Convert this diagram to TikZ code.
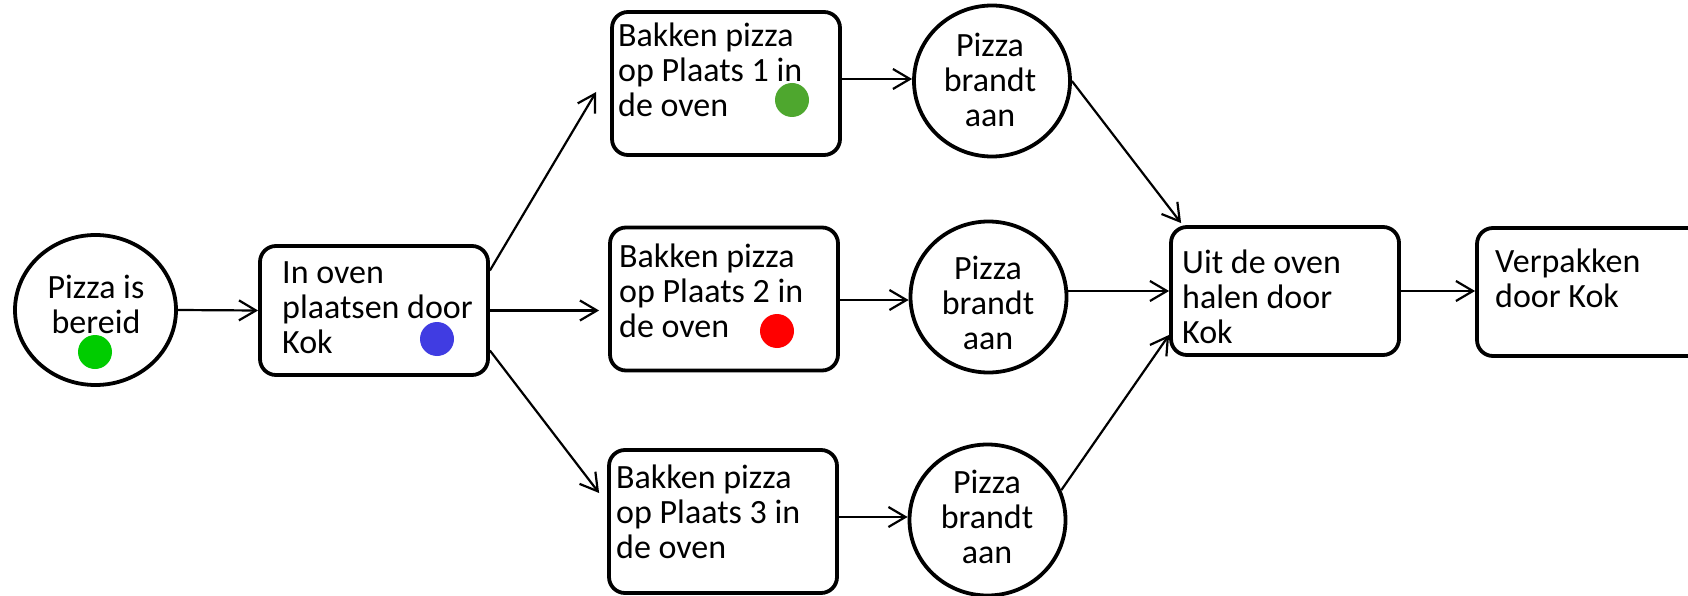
\documentclass[tikz,border=0pt]{standalone}
\usepackage{fontspec}
\setmainfont{Carlito}
\usetikzlibrary{arrows.meta,shapes.geometric}
\definecolor{dotgreenA}{RGB}{0,204,0}
\definecolor{dotgreenB}{RGB}{78,167,46}
\definecolor{dotblue}{RGB}{64,60,226}
\definecolor{dotred}{RGB}{255,0,0}
\tikzset{
  stepbox/.style={draw, line width=3.8pt, rounded corners=16pt, minimum width=228pt, minimum height=143pt, inner sep=0pt},
  event/.style={draw, ellipse, line width=3.8pt, minimum width=156pt, minimum height=151pt, inner sep=0pt},
  lbl/.style={anchor=base west, align=left, inner sep=0pt, font=\fontsize{34}{35}\selectfont},
  clbl/.style={anchor=base, align=center, inner sep=0pt, font=\fontsize{34}{35}\selectfont},
  dot/.style={circle, minimum size=34pt, inner sep=0pt, draw=none},
  conn/.style={line width=2.2pt, -{Straight Barb[length=17pt,width=20pt]}}
}
\begin{document}
\begin{tikzpicture}[x=1pt,y=-1pt]
\clip (0,0) rectangle (1688,596);
\fill[white] (0,0) rectangle (1688,596);
% shapes
\node[event, minimum width=161pt, minimum height=150pt] (bereid) at (95.5,310) {};
\node[stepbox, minimum height=129pt] (inoven) at (374,310.5) {};
\node[stepbox] (box1) at (726,83.5) {};
\node[stepbox] (box2) at (724,299) {};
\node[stepbox] (box3) at (723,521.5) {};
\node[event] (circ1) at (992,81) {};
\node[event] (circ2) at (988.5,297) {};
\node[event] (circ3) at (987.5,520) {};
\node[stepbox, minimum height=128pt] (uit) at (1285,291) {};
\node[stepbox, minimum height=128pt] (verp) at (1591,292) {};
% texts (anchored at the baseline of the last line)
\node[clbl] (tbereid) at (96,333) {Pizza is\\bereid};
\node[lbl] (tinoven) at (282,353) {In oven\\plaatsen door\\Kok};
\node[lbl] (tbox1) at (618,117) {Bakken pizza\\op Plaats 1 in\\de oven};
\node[lbl] (tbox2) at (619,337) {Bakken pizza\\op Plaats 2 in\\de oven};
\node[lbl] (tbox3) at (616,558) {Bakken pizza\\op Plaats 3 in\\de oven};
\node[clbl] (tcirc1) at (990,127) {Pizza\\brandt\\aan};
\node[clbl] (tcirc2) at (988,349) {Pizza\\brandt\\aan};
\node[clbl] (tcirc3) at (987,563) {Pizza\\brandt\\aan};
\node[lbl] (tuit) at (1182,343) {Uit de oven\\halen door\\Kok};
\node[lbl] (tverp) at (1495,307) {Verpakken\\door Kok};
% dots
\node[dot, fill=dotgreenA] (dot1) at (95,352) {};
\node[dot, fill=dotblue] (dot2) at (437,339) {};
\node[dot, fill=dotgreenB] (dot3) at (792,100) {};
\node[dot, fill=dotred] (dot4) at (777,331) {};
% connectors
\draw[conn] (bereid.east) -- (inoven.west);
\draw[conn] ([yshift=40pt]inoven.east) -- ([xshift=-14pt,yshift=-8.5pt]box1.west);
\draw[conn] (inoven.east) -- ([xshift=-9pt]inoven.east -| box2.west);
\draw[conn] ([yshift=-40pt]inoven.east) -- ([xshift=-8pt,yshift=28.5pt]box3.west);
\draw[conn] ([yshift=4.5pt]box1.east) -- ([yshift=4.5pt]box1.east -| circ1.west);
\draw[conn] ([yshift=-1pt]box2.east) -- ([yshift=-1pt]box2.east -| circ2.west);
\draw[conn] ([yshift=4.5pt]box3.east) -- ([yshift=4.5pt]box3.east -| circ3.west);
\draw[conn] (circ1.east) -- ([xshift=12pt,yshift=2pt]uit.north west);
\draw[conn] (circ2.east |- uit.west) -- (uit.west);
\draw[conn] (circ3.22) -- ([yshift=22pt]uit.south west);
\draw[conn] (uit.east) -- (uit.east -| verp.west);
\end{tikzpicture}
\end{document}
